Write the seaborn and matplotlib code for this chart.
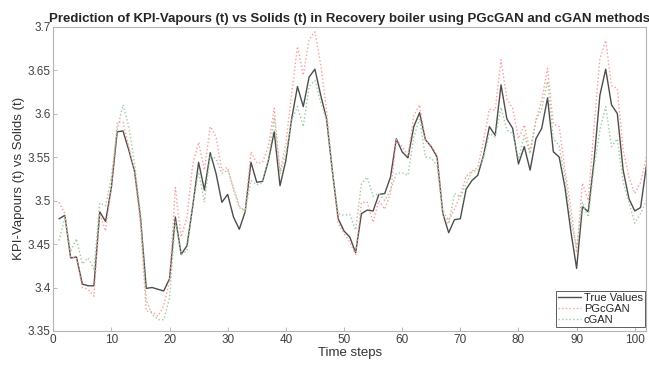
import matplotlib
matplotlib.use("Agg")
import matplotlib.pyplot as plt
import seaborn as sns
import pandas as pd

# time steps 1..102
steps = list(range(1, 103))

true_values = [
    3.479, 3.483, 3.434, 3.435, 3.404, 3.402, 3.402, 3.487, 3.476, 3.515,
    3.579, 3.580, 3.558, 3.533, 3.481, 3.399, 3.400, 3.398, 3.396, 3.410,
    3.481, 3.438, 3.448, 3.494, 3.544, 3.512, 3.555, 3.531, 3.498, 3.507,
    3.481, 3.467, 3.487, 3.544, 3.521, 3.522, 3.546, 3.579, 3.517, 3.546,
    3.594, 3.631, 3.608, 3.642, 3.651, 3.621, 3.594, 3.534, 3.479, 3.465,
    3.458, 3.440, 3.485, 3.489, 3.488, 3.507, 3.508, 3.527, 3.571, 3.556,
    3.549, 3.585, 3.601, 3.570, 3.562, 3.550, 3.485, 3.463, 3.478, 3.479,
    3.513, 3.523, 3.529, 3.552, 3.585, 3.575, 3.633, 3.594, 3.583, 3.542,
    3.562, 3.535, 3.571, 3.583, 3.618, 3.556, 3.550, 3.515, 3.465, 3.422,
    3.493, 3.487, 3.546, 3.621, 3.651, 3.610, 3.600, 3.535, 3.502, 3.488,
    3.492, 3.540,
]

pgcgan = [
    3.498, 3.485, 3.435, 3.434, 3.400, 3.398, 3.390, 3.485, 3.465, 3.515,
    3.590, 3.590, 3.562, 3.531, 3.473, 3.373, 3.372, 3.367, 3.379, 3.408,
    3.515, 3.458, 3.481, 3.542, 3.567, 3.535, 3.585, 3.573, 3.535, 3.538,
    3.512, 3.492, 3.488, 3.556, 3.543, 3.544, 3.562, 3.606, 3.533, 3.565,
    3.623, 3.677, 3.644, 3.685, 3.694, 3.656, 3.604, 3.535, 3.474, 3.462,
    3.452, 3.438, 3.498, 3.498, 3.475, 3.500, 3.490, 3.508, 3.570, 3.562,
    3.552, 3.598, 3.610, 3.569, 3.563, 3.552, 3.488, 3.477, 3.490, 3.506,
    3.528, 3.534, 3.538, 3.569, 3.605, 3.604, 3.662, 3.617, 3.606, 3.571,
    3.587, 3.556, 3.593, 3.615, 3.652, 3.588, 3.585, 3.535, 3.492, 3.440,
    3.520, 3.500, 3.585, 3.663, 3.684, 3.632, 3.629, 3.558, 3.527, 3.508,
    3.521, 3.550,
]

cgan = [
    3.454, 3.481, 3.442, 3.456, 3.427, 3.434, 3.421, 3.497, 3.494, 3.527,
    3.581, 3.610, 3.585, 3.542, 3.485, 3.385, 3.369, 3.363, 3.363, 3.388,
    3.477, 3.438, 3.442, 3.496, 3.533, 3.498, 3.552, 3.548, 3.531, 3.535,
    3.515, 3.494, 3.487, 3.523, 3.518, 3.521, 3.546, 3.594, 3.531, 3.554,
    3.592, 3.608, 3.585, 3.631, 3.638, 3.613, 3.592, 3.533, 3.485, 3.483,
    3.484, 3.466, 3.519, 3.527, 3.505, 3.508, 3.500, 3.512, 3.531, 3.532,
    3.529, 3.573, 3.594, 3.550, 3.549, 3.540, 3.483, 3.473, 3.508, 3.504,
    3.519, 3.533, 3.535, 3.550, 3.577, 3.573, 3.607, 3.581, 3.577, 3.548,
    3.575, 3.554, 3.592, 3.605, 3.637, 3.571, 3.563, 3.527, 3.477, 3.446,
    3.498, 3.481, 3.538, 3.581, 3.608, 3.562, 3.571, 3.521, 3.498, 3.474,
    3.485, 3.500,
]

y_ticks = [3.35, 3.4, 3.45, 3.5, 3.55, 3.6, 3.65, 3.7]
y_tick_labels = ["3.35", "3.4", "3.45", "3.5", "3.55", "3.6", "3.65", "3.7"]
x_ticks = list(range(0, 101, 10))

sns.set_theme(style="white")
plt.rcParams["font.family"] = ["Liberation Sans", "DejaVu Sans"]

fig, ax = plt.subplots(figsize=(6.49, 3.69), dpi=100)
fig.subplots_adjust(left=0.082, right=0.996, bottom=0.103, top=0.928)

df = pd.DataFrame({"step": steps, "true": true_values,
                   "pg": pgcgan, "cg": cgan})

sns.lineplot(data=df, x="step", y="true", color="#4d4d4d", lw=1.0,
             label="True Values", ax=ax)
sns.lineplot(data=df, x="step", y="pg", color="#ff9a9a", lw=1.0,
             linestyle=":", label="PGcGAN", ax=ax)
sns.lineplot(data=df, x="step", y="cg", color="#9ccb9c", lw=1.0,
             linestyle=":", label="cGAN", ax=ax)

ax.set_xlim(0, 102)
ax.set_ylim(3.35, 3.7)
ax.set_xticks(x_ticks)
ax.set_yticks(y_ticks)
ax.set_yticklabels(y_tick_labels)
ax.tick_params(direction="in", length=3, width=0.6, colors="#b0b0b0",
               labelcolor="#404040", labelsize=8.5, pad=2,
               bottom=True, left=True)

for sp in ax.spines.values():
    sp.set_color("#b4b4b4")
    sp.set_linewidth(0.8)

ax.set_title("Prediction of KPI-Vapours (t) vs Solids (t) in Recovery boiler using PGcGAN and cGAN methods",
             fontsize=9.5, fontweight="bold", pad=3)
ax.set_xlabel("Time steps", fontsize=9.5, color="#333333", labelpad=1)
ax.set_ylabel("KPI-Vapours (t) vs Solids (t)", fontsize=9.5,
              color="#333333", labelpad=2)

leg = ax.legend(loc="lower right", bbox_to_anchor=(0.998, 0.012),
                fontsize=8, frameon=True, fancybox=False,
                borderpad=0.2, labelspacing=0.1, handlelength=2.0,
                handletextpad=0.3, borderaxespad=0.0)
leg.get_frame().set_edgecolor("#333333")
leg.get_frame().set_linewidth(0.7)

plt.savefig("out.png", dpi=100)
